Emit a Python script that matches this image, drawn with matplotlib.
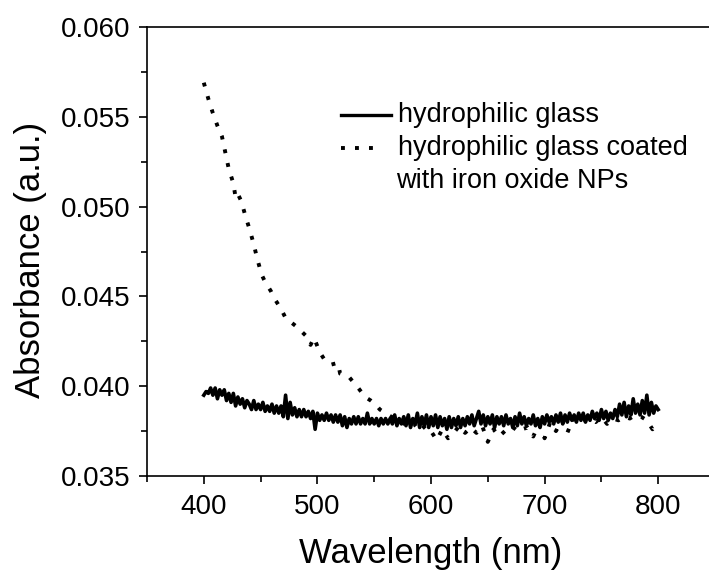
import matplotlib
matplotlib.use("Agg")
import matplotlib.pyplot as plt
from matplotlib.lines import Line2D
from matplotlib.ticker import MultipleLocator, FormatStrFormatter

plt.rcParams['font.family'] = ['Liberation Sans', 'DejaVu Sans']

# ---- data ----
wl_start = 400
wl_step = 2
glass_abs = [
    0.0395, 0.0397, 0.0396, 0.0399, 0.0395, 0.0399, 0.0393, 0.0398, 0.0395, 0.0398,
    0.0392, 0.0396, 0.0391, 0.0396, 0.0389, 0.0394, 0.0390, 0.0393, 0.0388, 0.0392,
    0.0390, 0.0387, 0.0392, 0.0387, 0.0390, 0.0387, 0.0391, 0.0386, 0.0389, 0.0386,
    0.0390, 0.0385, 0.0389, 0.0385, 0.0389, 0.0383, 0.0395, 0.0382, 0.0391, 0.0384,
    0.0388, 0.0383, 0.0387, 0.0383, 0.0387, 0.0383, 0.0386, 0.0382, 0.0386, 0.0376,
    0.0385, 0.0381, 0.0384, 0.0381, 0.0385, 0.0381, 0.0384, 0.0380, 0.0384, 0.0380,
    0.0384, 0.0378, 0.0383, 0.0377, 0.0382, 0.0379, 0.0383, 0.0379, 0.0383, 0.0379,
    0.0382, 0.0379, 0.0385, 0.0379, 0.0382, 0.0379, 0.0382, 0.0378, 0.0382, 0.0379,
    0.0382, 0.0379, 0.0382, 0.0379, 0.0384, 0.0378, 0.0382, 0.0379, 0.0383, 0.0378,
    0.0384, 0.0377, 0.0382, 0.0379, 0.0385, 0.0377, 0.0383, 0.0378, 0.0384, 0.0377,
    0.0383, 0.0378, 0.0384, 0.0377, 0.0383, 0.0378, 0.0382, 0.0376, 0.0383, 0.0377,
    0.0382, 0.0378, 0.0383, 0.0377, 0.0382, 0.0378, 0.0383, 0.0379, 0.0384, 0.0378,
    0.0382, 0.0386, 0.0379, 0.0384, 0.0378, 0.0383, 0.0379, 0.0384, 0.0377, 0.0383,
    0.0379, 0.0383, 0.0378, 0.0384, 0.0379, 0.0382, 0.0377, 0.0383, 0.0378, 0.0385,
    0.0379, 0.0383, 0.0378, 0.0382, 0.0379, 0.0384, 0.0378, 0.0382, 0.0377, 0.0383,
    0.0379, 0.0384, 0.0380, 0.0383, 0.0379, 0.0384, 0.0380, 0.0385, 0.0379, 0.0384,
    0.0380, 0.0385, 0.0381, 0.0384, 0.0380, 0.0385, 0.0381, 0.0385, 0.0380, 0.0384,
    0.0381, 0.0386, 0.0382, 0.0385, 0.0381, 0.0387, 0.0382, 0.0386, 0.0381, 0.0385,
    0.0382, 0.0387, 0.0383, 0.0390, 0.0384, 0.0391, 0.0383, 0.0389, 0.0384, 0.0393,
    0.0385, 0.0390, 0.0384, 0.0392, 0.0385, 0.0395, 0.0384, 0.0391, 0.0385, 0.0389,
    0.0387,
]
glass_wl = [wl_start + wl_step * i for i in range(len(glass_abs))]

coated_wl = [400, 404, 408, 412, 416, 419, 422, 426, 428, 430, 433, 437, 440, 444,
             447, 451, 454, 459, 462, 468, 472, 476, 482, 490, 494, 497, 502, 506,
             512, 518, 520, 528, 536, 542, 547, 551, 555, 560, 565, 570, 575, 580,
             585, 590, 595, 600, 605, 610, 615, 620, 625, 630, 635, 640, 645, 650,
             655, 660, 665, 670, 675, 680, 685, 690, 695, 700, 705, 710, 715, 720,
             725, 730, 735, 740, 745, 750, 755, 760, 765, 770, 775, 780, 785, 790,
             795, 800]
coated_abs = [0.0569, 0.0560, 0.0552, 0.0545, 0.0539, 0.0530, 0.0521, 0.0513, 0.0505,
              0.0507, 0.0503, 0.0494, 0.0488, 0.0479, 0.0471, 0.0462, 0.0458, 0.0453,
              0.0449, 0.0443, 0.0438, 0.0436, 0.0433, 0.0428, 0.0423, 0.0427, 0.0419,
              0.0415, 0.0412, 0.0413, 0.0407, 0.0405, 0.0399, 0.0394, 0.0392, 0.0390,
              0.0387, 0.0385, 0.0383, 0.0382, 0.0380, 0.0377, 0.0379, 0.0375, 0.0378,
              0.0375, 0.0370, 0.0376, 0.0371, 0.0374, 0.0378, 0.0374, 0.0377, 0.0374,
              0.0378, 0.0369, 0.0376, 0.0372, 0.0375, 0.0374, 0.0378, 0.0376, 0.0377,
              0.0372, 0.0379, 0.0371, 0.0380, 0.0375, 0.0381, 0.0374, 0.0382, 0.0379,
              0.0381, 0.0382, 0.0380, 0.0383, 0.0379, 0.0382, 0.0381, 0.0383, 0.0382,
              0.0384, 0.0383, 0.0381, 0.0376, 0.0380]

labels = ["hydrophilic glass", "hydrophilic glass coated", "with iron oxide NPs"]
x_label = "Wavelength (nm)"
y_label = "Absorbance (a.u.)"

# ---- figure ----
W, H = 709, 572
fig = plt.figure(figsize=(W / 100, H / 100), dpi=100)
left, right, top, bottom = 147, 715, 27, 476
ax = fig.add_axes([left / W, 1 - bottom / H, (right - left) / W, (bottom - top) / H])

dot_style = (0, (1.0, 2.6))
ax.plot(coated_wl, coated_abs, color='black', lw=2.8,
        linestyle=dot_style, dash_capstyle='butt')
ax.plot(glass_wl, glass_abs, color='black', lw=2.6, solid_joinstyle='round')

ax.set_xlim(350, 850)
ax.set_ylim(0.035, 0.060)
ax.xaxis.set_major_locator(MultipleLocator(100))
ax.xaxis.set_minor_locator(MultipleLocator(50))
ax.yaxis.set_major_locator(MultipleLocator(0.005))
ax.yaxis.set_minor_locator(MultipleLocator(0.0025))
ax.yaxis.set_major_formatter(FormatStrFormatter('%.3f'))

for s in ['left', 'bottom', 'top']:
    ax.spines[s].set_linewidth(1.2)
ax.spines['right'].set_visible(False)
ax.tick_params(which='major', direction='out', length=6, width=1.2, labelsize=20)
ax.tick_params(axis='x', which='major', pad=7)
ax.tick_params(axis='y', which='major', pad=6)
ax.tick_params(which='minor', direction='out', length=4, width=1.2)
ax.tick_params(top=False, right=False, which='both')

ax.set_xlabel(x_label, fontsize=25)
ax.set_ylabel(y_label, fontsize=25)
ax.xaxis.set_label_coords((431 - left) / (right - left), -(553 - bottom) / (bottom - top))
ax.yaxis.set_label_coords((31 - left) / (right - left), (bottom - 260) / (bottom - top))
ax.xaxis.label.set_va('center')
ax.yaxis.label.set_va('center')

# legend drawn in pixel-derived axes coordinates
def ax_xy(px, py):
    return ((px - left) / (right - left), (bottom - py) / (bottom - top))

x0, y0 = ax_xy(341, 115)
x1, _ = ax_xy(391, 115)
ax.add_line(Line2D([x0, x1], [y0, y0], transform=ax.transAxes, color='black', lw=2.4))
x0, y1 = ax_xy(341, 148)
x1, _ = ax_xy(382, 148)
ax.add_line(Line2D([x0, x1], [y1, y1], transform=ax.transAxes, color='black', lw=2.8,
                   linestyle=dot_style, dash_capstyle='butt'))
tx, _ = ax_xy(398, 0)
ax.text(tx, y0, labels[0], transform=ax.transAxes, fontsize=19.5, va='center', ha='left')
ax.text(tx, y1, labels[1], transform=ax.transAxes, fontsize=19.5, va='center', ha='left')
_, y2 = ax_xy(0, 181)
tx3, _ = ax_xy(396, 0)
ax.text(tx3, y2, labels[2], transform=ax.transAxes, fontsize=19.5, va='center', ha='left')

fig.savefig("out.png", dpi=100)
